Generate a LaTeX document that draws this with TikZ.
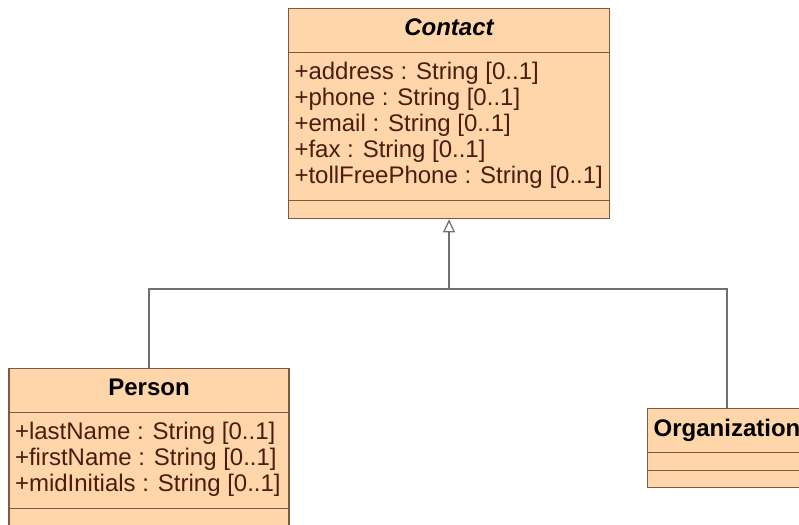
\documentclass[tikz,border=0pt]{standalone}
\usepackage{fontspec}
\setmainfont{Liberation Sans}
\usetikzlibrary{shapes.multipart, arrows.meta}
\definecolor{classfill}{HTML}{FED6A9}
\definecolor{classline}{HTML}{7B5B45}
\definecolor{attrtext}{HTML}{4B1C0F}
\definecolor{linkgray}{HTML}{707070}
% compartments of a class box
\newcommand{\classtitle}[1]{\vbox to 42.5pt{\vskip10pt\hbox{\color{black}\bfseries #1}\vss}}
\newcommand{\classattrs}[2]{\vbox to #1{\vskip9pt #2\vss}}
\newcommand{\classempty}[1]{\vbox to #1{}}
\newcommand{\attr}[1]{\hbox{#1}}

\begin{document}
\begin{tikzpicture}[x=1pt, y=-1pt,
  umlclass/.style={rectangle split, rectangle split parts=3,
    rectangle split part align={center,left,left},
    draw=classline, line width=1.2pt, fill=classfill,
    inner xsep=6pt, inner ysep=0pt, anchor=north,
    font=\fontsize{24}{26}\selectfont, text=attrtext},
  link/.style={draw=linkgray, line width=1.3pt},
  inherit/.style={link, -{Triangle[length=13pt, width=12pt, fill=white]}}]
  \useasboundingbox (0,0) rectangle (799,524);

  % classes
  \node[umlclass, minimum width=321pt] (contact) at (449,8) {%
    \classtitle{\itshape Contact}
    \nodepart{second}\classattrs{147pt}{%
      \attr{+address : String [0..1]}
      \attr{+phone : String [0..1]}
      \attr{+email : String [0..1]}
      \attr{+fax : String [0..1]}
      \attr{+tollFreePhone : String [0..1]}}
    \nodepart{third}\classempty{17pt}};

  \node[umlclass, minimum width=280pt] (person) at (149,368) {%
    \classtitle{Person}
    \nodepart{second}\classattrs{95pt}{%
      \attr{+lastName : String [0..1]}
      \attr{+firstName : String [0..1]}
      \attr{+midInitials : String [0..1]}}
    \nodepart{third}\classempty{17pt}};

  \node[umlclass, minimum width=158pt] (org) at (727,408) {%
    \classtitle{Organization}
    \nodepart{second}\classempty{17pt}
    \nodepart{third}\classempty{16pt}};

  % generalization
  \coordinate (split) at (contact.south |- 0,289);
  \draw[link] (person.north) |- (split) -| (org.north);
  \draw[inherit] (split) -- (contact.south);
\end{tikzpicture}
\end{document}
